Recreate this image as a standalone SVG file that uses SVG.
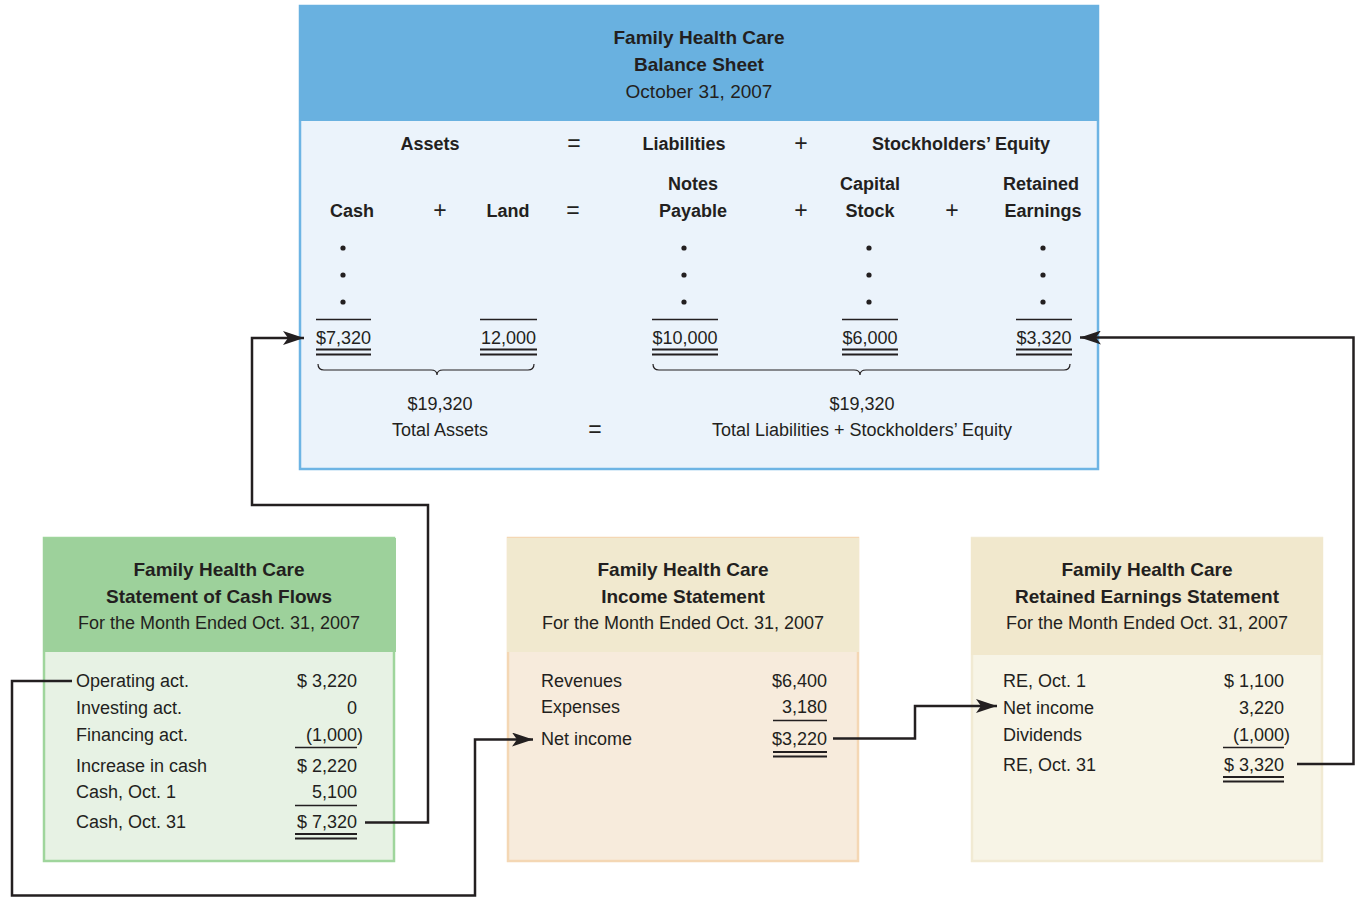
<svg xmlns="http://www.w3.org/2000/svg" width="1355" height="897" viewBox="0 0 1355 897">
<style>
text{fill:#231F20;font-family:"Liberation Sans",Arial,sans-serif}
.h{font-size:19px;font-weight:bold;text-anchor:middle}
.s{font-size:18px;text-anchor:middle}
.b{font-size:18px;font-weight:bold;text-anchor:middle}
.op{font-size:23px;text-anchor:middle}
.l{font-size:18px;text-anchor:start}
.r{font-size:18px;text-anchor:end}
.ul{stroke:#231F20;stroke-width:1.6;fill:none}
.dl{stroke:#231F20;stroke-width:2.2;fill:none}
.brace{stroke:#231F20;stroke-width:1.2;fill:none}
.conn{stroke:#231F20;stroke-width:2.5;fill:none}
</style>
<defs>
<marker id="arr" markerUnits="userSpaceOnUse" markerWidth="22" markerHeight="14" refX="21" refY="7" orient="auto">
<path d="M0,0 L21,7 L0,14 L5,7 z" fill="#231F20"/>
</marker>
</defs>

<g id="balance-sheet">
<rect x="300" y="6" width="798" height="463" fill="#EBF3FB" stroke="#6DB4E4" stroke-width="2.5"/>
<rect x="299" y="5" width="800" height="116" fill="#69B1E0"/>
<text class="h" x="699" y="44">Family Health Care</text>
<text class="h" x="699" y="71">Balance Sheet</text>
<text class="s" x="699" y="98" style="font-size:19px">October 31, 2007</text>

<text class="b" x="430" y="150">Assets</text>
<text class="op" x="574" y="151">=</text>
<text class="b" x="684" y="150">Liabilities</text>
<text class="op" x="801" y="151">+</text>
<text class="b" x="961" y="150">Stockholders’ Equity</text>

<text class="b" x="693" y="190">Notes</text>
<text class="b" x="870" y="190">Capital</text>
<text class="b" x="1041" y="190">Retained</text>

<text class="b" x="352" y="217">Cash</text>
<text class="op" x="440" y="218">+</text>
<text class="b" x="508" y="217">Land</text>
<text class="op" x="573" y="218">=</text>
<text class="b" x="693" y="217">Payable</text>
<text class="op" x="801" y="218">+</text>
<text class="b" x="870" y="217">Stock</text>
<text class="op" x="952" y="218">+</text>
<text class="b" x="1043" y="217">Earnings</text>

<g fill="#231F20">
<circle cx="343" cy="248" r="2.6"/><circle cx="343" cy="275" r="2.6"/><circle cx="343" cy="302" r="2.6"/>
<circle cx="684" cy="248" r="2.6"/><circle cx="684" cy="275" r="2.6"/><circle cx="684" cy="302" r="2.6"/>
<circle cx="869" cy="248" r="2.6"/><circle cx="869" cy="275" r="2.6"/><circle cx="869" cy="302" r="2.6"/>
<circle cx="1043" cy="248" r="2.6"/><circle cx="1043" cy="275" r="2.6"/><circle cx="1043" cy="302" r="2.6"/>
</g>

<path class="ul" d="M316,319.5H371 M480,319.5H537 M652,319.5H718 M842,319.5H898 M1016,319.5H1072"/>
<text class="s" x="343.5" y="344">$7,320</text>
<text class="s" x="508.5" y="344">12,000</text>
<text class="s" x="685" y="344">$10,000</text>
<text class="s" x="870" y="344">$6,000</text>
<text class="s" x="1044" y="344">$3,320</text>
<path class="dl" d="M316,349.5H371 M316,354.5H371 M480,349.5H537 M480,354.5H537 M652,349.5H718 M652,354.5H718 M842,349.5H898 M842,354.5H898 M1016,349.5H1072 M1016,354.5H1072"/>

<path class="brace" d="M318,364 q0,6 6,6 H431 q6,0 6,5 q0,-5 6,-5 H528 q6,0 6,-6"/>
<path class="brace" d="M653,364 q0,6 6,6 H854 q6,0 6,5 q0,-5 6,-5 H1064 q6,0 6,-6"/>

<text class="s" x="440" y="410">$19,320</text>
<text class="s" x="440" y="436">Total Assets</text>
<text class="op" x="595" y="437">=</text>
<text class="s" x="862" y="410">$19,320</text>
<text class="s" x="862" y="436">Total Liabilities + Stockholders’ Equity</text>
</g>

<g id="cash-flows">
<rect x="44" y="538" width="350" height="323" fill="#E7F2E4" stroke="#9FD59C" stroke-width="2.5"/>
<rect x="43" y="538" width="353" height="114" fill="#9DD19B"/>
<text class="h" x="219" y="576">Family Health Care</text>
<text class="h" x="219" y="603">Statement of Cash Flows</text>
<text class="s" x="219" y="629">For the Month Ended Oct. 31, 2007</text>
<text class="l" x="76" y="687">Operating act.</text>
<text class="l" x="76" y="714">Investing act.</text>
<text class="l" x="76" y="741">Financing act.</text>
<text class="l" x="76" y="772">Increase in cash</text>
<text class="l" x="76" y="798">Cash, Oct. 1</text>
<text class="l" x="76" y="828">Cash, Oct. 31</text>
<text class="r" x="357" y="687">$ 3,220</text>
<text class="r" x="357" y="714">0</text>
<text class="r" x="363" y="741">(1,000)</text>
<text class="r" x="357" y="772">$ 2,220</text>
<text class="r" x="357" y="798">5,100</text>
<text class="r" x="357" y="828">$ 7,320</text>
<path class="ul" d="M295,747.5H357 M295,805.5H357"/>
<path class="dl" d="M295,834H357 M295,838.5H357"/>
</g>

<g id="income-statement">
<rect x="508" y="538" width="350" height="323" fill="#F7EBDC" stroke="#F4D7B4" stroke-width="2.5"/>
<rect x="507" y="538" width="352" height="114" fill="#F1E9CF"/>
<text class="h" x="683" y="576">Family Health Care</text>
<text class="h" x="683" y="603">Income Statement</text>
<text class="s" x="683" y="629">For the Month Ended Oct. 31, 2007</text>
<text class="l" x="541" y="687">Revenues</text>
<text class="l" x="541" y="713">Expenses</text>
<text class="l" x="541" y="745">Net income</text>
<text class="r" x="827" y="687">$6,400</text>
<text class="r" x="827" y="713">3,180</text>
<text class="r" x="827" y="745">$3,220</text>
<path class="ul" d="M773,720.5H827"/>
<path class="dl" d="M773,752H827 M773,756.5H827"/>
</g>

<g id="retained-earnings">
<rect x="972" y="538" width="350" height="323" fill="#F7F4E6" stroke="#F1EAD3" stroke-width="2.5"/>
<rect x="971" y="538" width="352" height="117" fill="#F1E8CD"/>
<text class="h" x="1147" y="576">Family Health Care</text>
<text class="h" x="1147" y="603">Retained Earnings Statement</text>
<text class="s" x="1147" y="629">For the Month Ended Oct. 31, 2007</text>
<text class="l" x="1003" y="687">RE, Oct. 1</text>
<text class="l" x="1003" y="714">Net income</text>
<text class="l" x="1003" y="741">Dividends</text>
<text class="l" x="1003" y="771">RE, Oct. 31</text>
<text class="r" x="1284" y="687">$ 1,100</text>
<text class="r" x="1284" y="714">3,220</text>
<text class="r" x="1290" y="741">(1,000)</text>
<text class="r" x="1284" y="771">$ 3,320</text>
<path class="ul" d="M1223,747.5H1284"/>
<path class="dl" d="M1223,777H1284 M1223,781.5H1284"/>
</g>

<g id="connectors">
<path class="conn" d="M365,822.5H428V505H252V338H304" marker-end="url(#arr)"/>
<path class="conn" d="M72,681H12V895.5H475V739.5H533" marker-end="url(#arr)"/>
<path class="conn" d="M833,738.5H915V706H997" marker-end="url(#arr)"/>
<path class="conn" d="M1297,764H1353.5V337.5H1080" marker-end="url(#arr)"/>
</g>
</svg>
